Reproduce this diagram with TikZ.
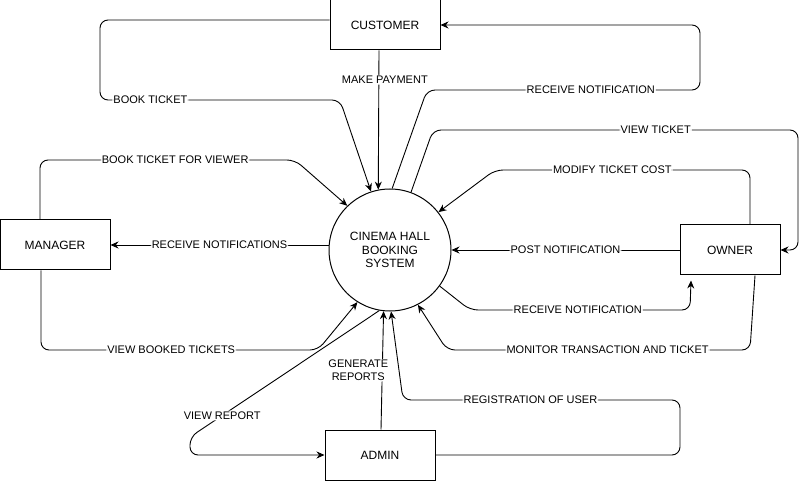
\documentclass[tikz,border=0pt]{standalone}
\usepackage{fontspec}
\setmainfont{Liberation Sans}
\usetikzlibrary{arrows.meta}

\begin{document}
\begin{tikzpicture}[x=1pt, y=-1pt,
    box/.style={draw, line width=1pt, minimum width=110pt, minimum height=50pt, inner sep=0pt, font=\fontsize{12}{14}\selectfont},
    flow/.style={draw, line width=0.9pt, -{Stealth[length=8pt,width=7pt]}, rounded corners=8pt},
    lbl/.style={fill=white, inner sep=1pt, font=\fontsize{11}{13}\selectfont}]
    \useasboundingbox (0,0) rectangle (809,481);

    % entities
    \node[box] (customer) at (385,25) {CUSTOMER};
    \node[box] (manager) at (55,245) {MANAGER};
    \node[box, minimum width=100pt] (owner) at (730,250) {OWNER};
    \node[box] (admin) at (380,455) {ADMIN};
    \node[draw, circle, line width=1pt, minimum size=122pt, inner sep=0pt, align=center,
          font=\fontsize{12}{13.5}\selectfont] (cinema) at (390,250) {CINEMA HALL\\BOOKING\\SYSTEM};

    % customer
    \draw[flow] ([yshift=5pt]customer.west) -- (100,20) -- (100,100)
        -- node[lbl, pos=0.21] {BOOK TICKET} (340,100) -- (cinema.108);
    \draw[flow] ([xshift=-6pt]customer.south)
        -- node[lbl, pos=0.21, xshift=6pt] {MAKE PAYMENT} (cinema.101);
    \draw[flow] (cinema.88) -- (427,90)
        -- node[lbl, pos=0.6] {RECEIVE NOTIFICATION} (700,90) -- (700,25) -- (customer.east);

    % owner
    \draw[flow] (cinema.70) -- (433,130)
        -- node[lbl, pos=0.61] {VIEW TICKET} (798,130) -- (798,250) -- (owner.east);
    \draw[flow] ([xshift=20pt]owner.north) -- (750,170)
        -- node[lbl, pos=0.54] {MODIFY TICKET COST} (495,170) -- (cinema.38);
    \draw[flow] (owner.west) -- node[lbl, pos=0.5] {POST NOTIFICATION} (cinema.east);
    \draw[flow] (cinema.-36) -- (470,310)
        -- node[lbl, pos=0.49] {RECEIVE NOTIFICATION} (690,310) -- ([xshift=-39pt,yshift=-5pt]owner.south);
    \draw[flow] ([xshift=25pt]owner.south) -- (750,350)
        -- node[lbl, pos=0.47] {MONITOR TRANSACTION AND TICKET} (447,350) -- (cinema.-63);

    % manager
    \draw[flow] (cinema.west |- manager.east) -- node[lbl, pos=0.5] {RECEIVE NOTIFICATIONS} (manager.east);
    \draw[flow] ([xshift=-15pt]manager.north) -- (40,160)
        -- node[lbl, pos=0.53] {BOOK TICKET FOR VIEWER} (295,160) -- (cinema.134);
    \draw[flow] ([xshift=-14pt]manager.south) -- (41,350)
        -- node[lbl, pos=0.47] {VIEW BOOKED TICKETS} (318,350) -- (cinema.-122);

    % admin
    \draw[flow] (cinema.-100) -- node[lbl, pos=0.83] {VIEW REPORT} (190,437) -- (190,455) -- (admin.west);
    \draw[flow] ([xshift=1pt]admin.north)
        -- node[lbl, pos=0.5, xshift=-24pt, align=center, font=\fontsize{11}{13}\selectfont] {GENERATE\\REPORTS} (cinema.-96);
    \draw[flow] (admin.east) -- (680,455) -- (680,400)
        -- node[lbl, pos=0.54] {REGISTRATION OF USER} (403,400) -- (cinema.-89);
\end{tikzpicture}
\end{document}
